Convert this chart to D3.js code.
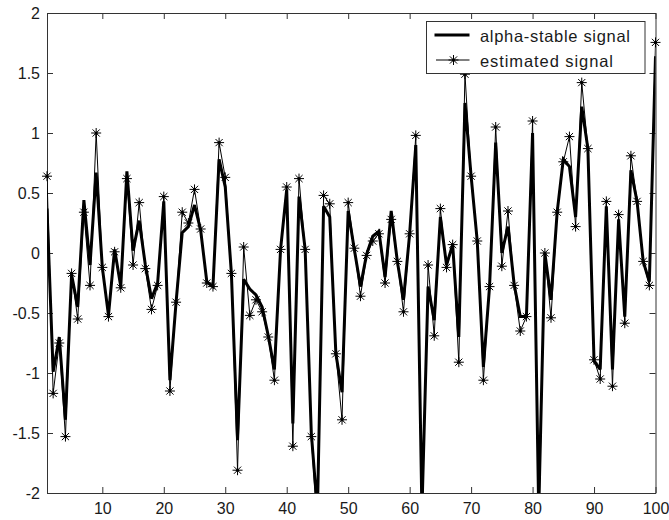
<!DOCTYPE html>
<html>
<head>
<meta charset="utf-8">
<script src="https://cdn.jsdelivr.net/npm/d3@7/dist/d3.min.js"></script>
<style>
  html, body { margin: 0; padding: 0; background: #fff; }
  svg { display: block; }
  .tick text { font-family: "Liberation Sans", Arial, sans-serif; font-size: 16px; fill: #1a1a1a; }
  .tick line, .domain { stroke: #333; stroke-width: 1; }
</style>
</head>
<body>
<svg id="chart" width="669" height="520"></svg>
<script>
// Sample values of the original alpha-stable sequence (index 1..100)
const signal = [
  0.37, -0.99, -0.70, -1.39, -0.18, -0.45, 0.44, -0.10, 0.67, -0.12,
  -0.52, 0.03, -0.28, 0.68, 0.02, 0.27, -0.10, -0.38, -0.25, 0.43,
  -1.06, -0.41, 0.17, 0.22, 0.40, 0.19, -0.24, -0.28, 0.78, 0.55,
  -0.17, -1.56, -0.22, -0.30, -0.35, -0.45, -0.69, -0.97, 0.03, 0.53,
  -1.42, 0.47, 0.03, -1.50, -2.15, 0.39, 0.30, -0.84, -1.16, 0.35,
  0.03, -0.28, -0.01, 0.14, 0.18, -0.20, 0.35, -0.07, -0.39, 0.16,
  0.90, -2.15, -0.28, -0.56, 0.30, -0.10, 0.07, -0.70, 1.25, 0.64,
  0.10, -0.95, -0.28, 0.92, 0.00, 0.22, -0.26, -0.53, -0.53, 1.00,
  -2.15, 0.00, -0.39, 0.34, 0.78, 0.72, 0.30, 1.22, 0.87, -0.90,
  -0.97, 0.39, -0.97, 0.28, -0.53, 0.69, 0.43, -0.07, -0.24, 1.64
];

// Reconstructed (estimated) sequence
const estimated = [
  0.64, -1.17, -0.75, -1.53, -0.17, -0.55, 0.34, -0.27, 1.00, -0.12,
  -0.53, 0.01, -0.29, 0.62, -0.10, 0.42, -0.13, -0.47, -0.27, 0.47,
  -1.15, -0.41, 0.34, 0.25, 0.53, 0.20, -0.25, -0.28, 0.92, 0.63,
  -0.17, -1.81, 0.05, -0.52, -0.39, -0.49, -0.70, -1.06, 0.03, 0.55,
  -1.61, 0.62, 0.03, -1.53, -2.30, 0.48, 0.41, -0.84, -1.39, 0.42,
  0.04, -0.36, -0.02, 0.10, 0.16, -0.25, 0.28, -0.07, -0.49, 0.16,
  0.98, -2.30, -0.10, -0.69, 0.37, -0.12, 0.07, -0.91, 1.49, 0.64,
  0.10, -1.06, -0.28, 1.05, -0.11, 0.35, -0.27, -0.65, -0.53, 1.10,
  -2.30, 0.00, -0.54, 0.34, 0.76, 0.97, 0.22, 1.42, 0.87, -0.89,
  -1.05, 0.43, -1.11, 0.32, -0.585, 0.81, 0.43, -0.07, -0.27, 1.755
];

const xTicks = [10, 20, 30, 40, 50, 60, 70, 80, 90, 100];
const yTicks = [-2, -1.5, -1, -0.5, 0, 0.5, 1, 1.5, 2];
const legendLabels = ["alpha-stable signal", "estimated signal"];

const svg = d3.select("#chart");
const plot = { left: 47, right: 655.5, top: 13, bottom: 493 };

const x = d3.scaleLinear().domain([1, 100]).range([plot.left, plot.right]);
const y = d3.scaleLinear().domain([-2, 2]).range([plot.bottom, plot.top]);

const idx = d3.range(1, signal.length + 1);

svg.append("defs").append("clipPath").attr("id", "plotClip")
  .append("rect")
  .attr("x", plot.left).attr("y", plot.top)
  .attr("width", plot.right - plot.left).attr("height", plot.bottom - plot.top);

// Axes with inward ticks on all four sides
const fmt = d => String(d);
svg.append("g").attr("transform", `translate(0,${plot.bottom})`)
  .call(d3.axisBottom(x).tickValues(xTicks).tickSizeInner(-6).tickSizeOuter(0).tickPadding(10).tickFormat(fmt));
svg.append("g").attr("transform", `translate(0,${plot.top})`)
  .call(d3.axisTop(x).tickValues(xTicks).tickSizeInner(-6).tickSizeOuter(0).tickFormat(""));
svg.append("g").attr("transform", `translate(${plot.left},0)`)
  .call(d3.axisLeft(y).tickValues(yTicks).tickSizeInner(-6).tickSizeOuter(0).tickPadding(7).tickFormat(fmt));
svg.append("g").attr("transform", `translate(${plot.right},0)`)
  .call(d3.axisRight(y).tickValues(yTicks).tickSizeInner(-6).tickSizeOuter(0).tickFormat(""));

const line = d3.line().x((d, i) => x(idx[i])).y(d => y(d));

const lines = svg.append("g").attr("clip-path", "url(#plotClip)");
lines.append("path").datum(signal)
  .attr("d", line).attr("fill", "none").attr("stroke", "#000")
  .attr("stroke-width", 3).attr("stroke-linejoin", "miter").attr("stroke-miterlimit", 3);
lines.append("path").datum(estimated)
  .attr("d", line).attr("fill", "none").attr("stroke", "#000").attr("stroke-width", 1);

// Asterisk marker: plus + cross
function asterisk(g) {
  const a = 5, b = 3.6;
  g.append("path")
    .attr("d", `M${-a},0H${a}M0,${-a}V${a}M${-b},${-b}L${b},${b}M${-b},${b}L${b},${-b}`)
    .attr("stroke", "#000").attr("stroke-width", 1).attr("fill", "none");
  g.append("circle").attr("r", 1.6).attr("fill", "#000");
}

svg.append("g").selectAll("g.mk")
  .data(estimated.map((v, i) => ({ i: idx[i], v })).filter(d => d.v >= -2 && d.v <= 2))
  .join("g").attr("class", "mk")
  .attr("transform", d => `translate(${x(d.i)},${y(d.v)})`)
  .each(function () { asterisk(d3.select(this)); });

// Legend
const lg = svg.append("g").attr("transform", "translate(426.5,21.5)");
lg.append("rect").attr("width", 218.5).attr("height", 52)
  .attr("fill", "#fff").attr("stroke", "#333").attr("stroke-width", 1);
const rows = lg.selectAll("g.row").data(legendLabels).join("g").attr("class", "row")
  .attr("transform", (d, i) => `translate(0,${13.5 + i * 25})`);
rows.append("text")
  .attr("x", 53.5).attr("y", 7.3)
  .attr("font-family", '"Liberation Sans", Arial, sans-serif')
  .attr("font-size", 16.5).attr("fill", "#1a1a1a")
  .attr("textLength", (d, i) => i === 0 ? 150 : 133)
  .attr("lengthAdjust", "spacing")
  .text(d => d);
rows.filter((d, i) => i === 0).append("line")
  .attr("x1", 8).attr("x2", 43).attr("stroke", "#000").attr("stroke-width", 3);
rows.filter((d, i) => i === 1).append("line")
  .attr("x1", 9.5).attr("x2", 43).attr("stroke", "#000").attr("stroke-width", 1);
rows.filter((d, i) => i === 1).append("g")
  .attr("transform", "translate(27,0)")
  .each(function () { asterisk(d3.select(this)); });
</script>
</body>
</html>
